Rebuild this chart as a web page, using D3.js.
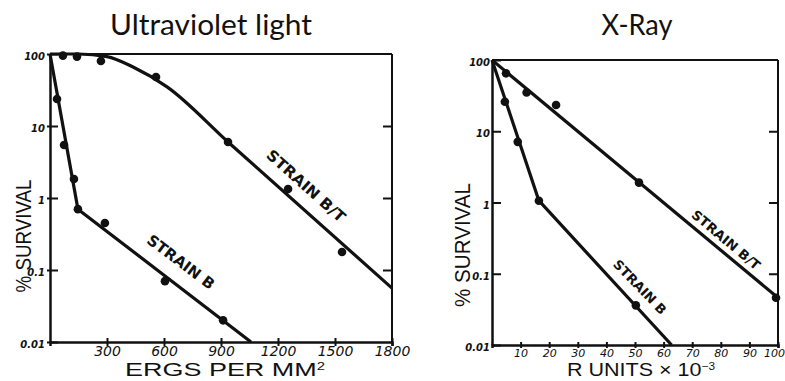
<!DOCTYPE html>
<html>
<head>
<meta charset="utf-8">
<script src="https://cdn.jsdelivr.net/npm/d3@7"></script>
<style>
    body { margin: 0; background: #fff; }
    svg { display: block; }
    .title { font-family: Lato, "Open Sans", sans-serif; font-size: 29px; fill: #111; }
    .axis-title { font-family: "Liberation Sans", Arial, sans-serif; fill: #111; }
    .tick-lbl { font-family: "DejaVu Sans", sans-serif; font-style: italic; font-weight: bold; fill: #111; }
    .strain { font-family: "DejaVu Sans", sans-serif; font-weight: bold; fill: #111; }
</style>
</head>
<body>
<div id="chart"></div>
<script>
// --- ultraviolet panel (dose in ergs per mm², survival in %)
const uvXTicks = [300, 600, 900, 1200, 1500, 1800];
const uvYTicks = [100, 10, 1, 0.1, 0.01];
const uvYLabels = ["100", "10", "1", "0.1", "0.01"];
const uvStrainBT = [[68, 95], [142, 92], [268, 80], [558, 48], [937, 6.0], [1253, 1.33], [1537, 0.178]];
const uvStrainBTFit = [[0, 100], [150, 100], [300, 92], [437, 66], [616, 35], [937, 6.0], [1800, 0.056]];
const uvStrainB = [[37, 23.7], [74, 5.45], [126, 1.84], [147, 0.70], [289, 0.45], [605, 0.070], [911, 0.020]];
const uvStrainBFit = [[0, 100], [147, 0.70], [1058, 0.01]];

// --- x-ray panel (dose in R units x 10^-3)
const xrXTicks = [10, 20, 30, 40, 50, 60, 70, 80, 90, 100];
const xrYTicks = [100, 10, 1, 0.1, 0.01];
const xrYLabels = ["100", "10", "1", "0.1", "0.01"];
const xrStrainBT = [[4.9, 65], [12.1, 35], [22.4, 23.4], [51.4, 1.9], [99.3, 0.046]];
const xrStrainBTFit = [[0, 100], [100, 0.046]];
const xrStrainB = [[4.5, 26], [9.0, 7.1], [16.4, 1.06], [50.3, 0.036]];
const xrStrainBFit = [[0, 100], [16.4, 1.06], [62.8, 0.01]];

const W = 785, H = 381;

class SurvivalChart {
    constructor(svg, opts) {
        this.svg = svg;
        this.o = opts;
    }

    setup() {
        const o = this.o;
        this.xScale = d3.scaleLinear().domain([0, o.xMax]).range([o.left, o.right]);
        this.yScale = d3.scaleLog().domain([0.01, 100]).range([o.bottom, o.top]);
        this.g = this.svg.append("g");
    }

    drawFrame() {
        const o = this.o;
        // top + right border
        this.g.append("line")
            .attr("x1", o.left).attr("x2", o.right)
            .attr("y1", o.top).attr("y2", o.top)
            .attr("stroke", "#111").attr("stroke-width", 2);
        this.g.append("line")
            .attr("x1", o.right).attr("x2", o.right)
            .attr("y1", o.top).attr("y2", o.bottom)
            .attr("stroke", "#111").attr("stroke-width", 2);
    }

    drawXAxis() {
        const o = this.o;
        let xAxis = d3.axisBottom(this.xScale)
            .tickValues(o.xTicks)
            .tickSizeOuter(0)
            .tickSize(o.xTickSize)
            .tickFormat(d3.format("d"));
        let ax = this.g.append("g")
            .attr("transform", "translate(0," + o.bottom + ")")
            .call(xAxis);
        ax.attr("font-family", null).attr("font-size", null);
        ax.select(".domain").attr("stroke", "#111").attr("stroke-width", 2.5);
        ax.selectAll(".tick line")
            .attr("y1", -o.xTickSize)
            .attr("stroke", "#111").attr("stroke-width", 2);
        ax.selectAll(".tick text")
            .attr("class", "tick-lbl")
            .attr("y", o.xLabelY)
            .attr("dy", null)
            .style("font-size", o.xLabelSize + "px")
            .style("font-weight", "normal")
            .attr("fill", "#111");
        // last label sits at the page edge, keep it inside
        if (o.xLastShift) {
            ax.selectAll(".tick text")
                .filter((d) => d === o.xMax)
                .attr("x", o.xLastShift);
        }

        // axis title
        let t = this.svg.append("text")
            .attr("class", "axis-title")
            .attr("x", o.xTitle.x).attr("y", o.xTitle.y)
            .attr("text-anchor", "middle")
            .style("font-size", o.xTitle.size + "px");
        t.append("tspan").text(o.xTitle.text);
        if (o.xTitle.sup) {
            t.append("tspan")
                .attr("dy", -6)
                .style("font-size", (o.xTitle.size * 0.55) + "px")
                .text(o.xTitle.sup);
        }
        t.attr("textLength", o.xTitle.len).attr("lengthAdjust", "spacingAndGlyphs");
    }

    drawYAxis() {
        const o = this.o;
        let yAxis = d3.axisLeft(this.yScale)
            .tickValues(o.yTicks)
            .tickSizeOuter(0)
            .tickSizeInner(-o.yTickIn)
            .tickPadding(o.yTickOut + 2)
            .tickFormat((d, i) => o.yLabels[i]);
        let ax = this.g.append("g")
            .attr("transform", "translate(" + o.left + ",0)")
            .call(yAxis);
        ax.attr("font-family", null).attr("font-size", null);
        ax.select(".domain").attr("stroke", "#111").attr("stroke-width", 2.5);
        ax.selectAll(".tick line")
            .attr("x1", -o.yTickOut)
            .attr("stroke", "#111").attr("stroke-width", 2);
        ax.selectAll(".tick text")
            .attr("class", "tick-lbl")
            .attr("dy", "0.55em")
            .style("font-size", "10px")
            .attr("fill", "#111");

        // inward ticks on the right border, no labels
        let rAxis = d3.axisRight(this.yScale)
            .tickValues(o.yTicks.slice(1, -1))
            .tickSizeOuter(0)
            .tickSizeInner(-9)
            .tickFormat("");
        let rx = this.g.append("g")
            .attr("transform", "translate(" + o.right + ",0)")
            .call(rAxis);
        rx.select(".domain").remove();
        rx.selectAll(".tick line").attr("stroke", "#111").attr("stroke-width", 2);

        this.svg.append("text")
            .attr("class", "axis-title")
            .attr("transform", "translate(" + o.yTitle.x + "," + o.yTitle.y + ") rotate(-90)")
            .attr("text-anchor", "middle")
            .attr("dy", "0.35em")
            .style("font-size", "22px")
            .attr("textLength", o.yTitle.len)
            .attr("lengthAdjust", "spacingAndGlyphs")
            .text("% SURVIVAL");
    }

    drawSeries(points, fit, curve) {
        let line = d3.line()
            .curve(curve)
            .x((d) => this.xScale(d[0]))
            .y((d) => this.yScale(d[1]));

        this.g.append("path")
            .datum(fit)
            .attr("d", line)
            .attr("fill", "none")
            .attr("stroke", "#111")
            .attr("stroke-width", 3.2)
            .attr("stroke-linejoin", "round");

        this.g.selectAll(null)
            .data(points)
            .enter().append("circle")
            .attr("cx", (d) => this.xScale(d[0]))
            .attr("cy", (d) => this.yScale(d[1]))
            .attr("r", 4.3)
            .attr("fill", "#111");
    }

    drawLabel(lbl) {
        let x = this.xScale(lbl.at[0]), y = this.yScale(lbl.at[1]);
        this.g.append("text")
            .attr("class", "strain")
            .attr("transform", "translate(" + x + "," + y + ") rotate(" + lbl.angle + ")")
            .attr("text-anchor", "middle")
            .attr("dy", "0.35em")
            .style("font-size", lbl.size + "px")
            .attr("textLength", lbl.len)
            .attr("lengthAdjust", "spacingAndGlyphs")
            .text(lbl.text);
    }

    drawTitle() {
        const o = this.o;
        this.svg.append("text")
            .attr("class", "title")
            .attr("x", o.title.x).attr("y", 35)
            .attr("text-anchor", "middle")
            .attr("textLength", o.title.len)
            .attr("lengthAdjust", "spacingAndGlyphs")
            .text(o.title.text);
    }
}

const svg = d3.select("#chart").append("svg")
    .attr("width", W)
    .attr("height", H);

const uv = new SurvivalChart(svg, {
    left: 50, right: 392, top: 54, bottom: 342, xMax: 1800,
    xTicks: uvXTicks, xTickSize: 4, xLabelY: 14, xLabelSize: 14,
    yTicks: uvYTicks, yLabels: uvYLabels, yTickIn: 8, yTickOut: 3,
    title: { text: "Ultraviolet light", x: 211, len: 202 },
    xTitle: { text: "ERGS PER MM", sup: "2", x: 225, y: 376, size: 19, len: 200 },
    yTitle: { x: 23, y: 236, len: 113 }
});
uv.setup();
uv.drawFrame();
uv.drawXAxis();
uv.drawYAxis();
uv.drawSeries(uvStrainBT, uvStrainBTFit, d3.curveMonotoneX);
uv.drawSeries(uvStrainB, uvStrainBFit, d3.curveLinear);
uv.drawLabel({ text: "STRAIN   B/T", at: [1347, 1.47], angle: 41.8, size: 15, len: 100 });
uv.drawLabel({ text: "STRAIN   B", at: [689, 0.129], angle: 37, size: 15, len: 80 });
uv.drawTitle();

const xr = new SurvivalChart(svg, {
    left: 492, right: 778, top: 60, bottom: 345, xMax: 100,
    xTicks: xrXTicks, xTickSize: 3, xLabelY: 12, xLabelSize: 11, xLastShift: -4,
    yTicks: xrYTicks, yLabels: xrYLabels, yTickIn: 9, yTickOut: 0,
    title: { text: "X-Ray", x: 637, len: 71 },
    xTitle: { text: "R UNITS × 10", sup: "−3", x: 641, y: 376, size: 19, len: 148 },
    yTitle: { x: 462, y: 245, len: 124 }
});
xr.setup();
xr.drawFrame();
xr.drawXAxis();
xr.drawYAxis();
xr.drawSeries(xrStrainBT, xrStrainBTFit, d3.curveLinear);
xr.drawSeries(xrStrainB, xrStrainBFit, d3.curveLinear);
xr.drawLabel({ text: "STRAIN  B/T", at: [81.8, 0.298], angle: 40, size: 13, len: 85 });
xr.drawLabel({ text: "STRAIN  B", at: [51.7, 0.065], angle: 46, size: 13, len: 70 });
xr.drawTitle();
</script>
</body>
</html>
